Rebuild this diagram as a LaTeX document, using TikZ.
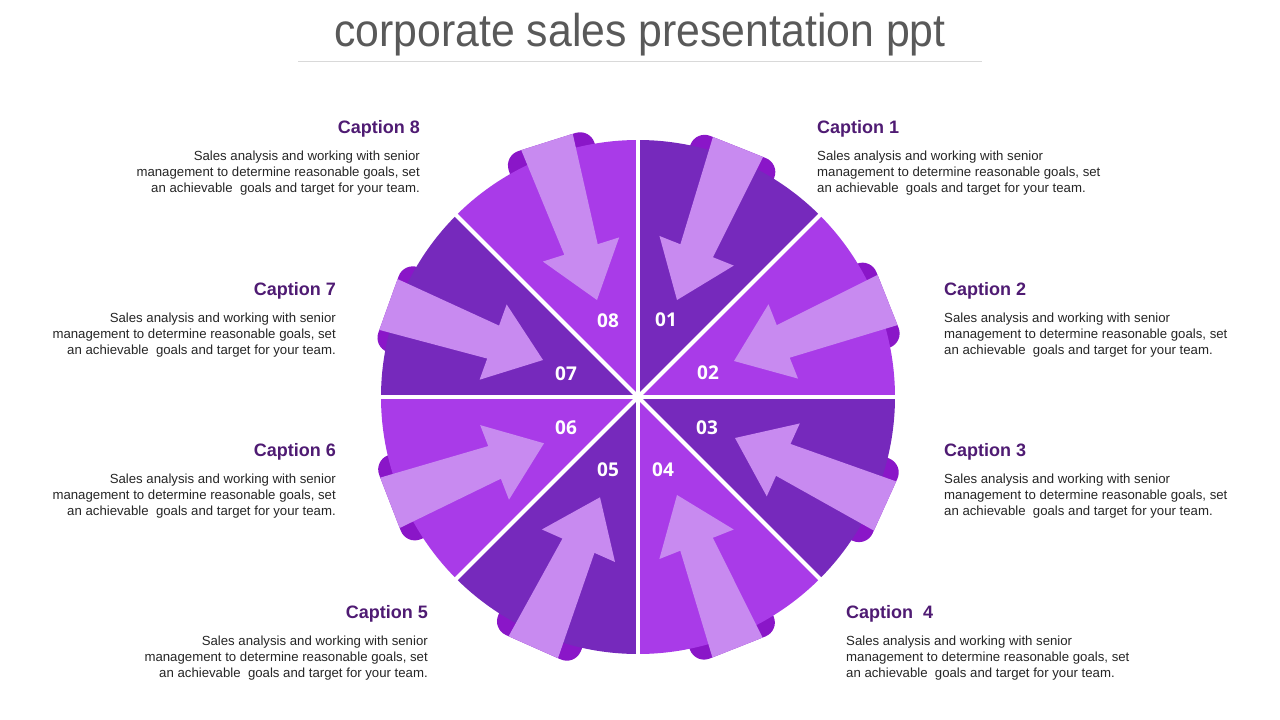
\documentclass[tikz,border=0pt]{standalone}
\usepackage{fontspec}
\setmainfont{Liberation Sans}
\newfontfamily\numfont{Open Sans}
\usetikzlibrary{calc}
\definecolor{darkc}{HTML}{7629BC}
\definecolor{brightc}{HTML}{A93BE8}
\definecolor{arrowc}{HTML}{C88AF0}
\definecolor{bumpc}{HTML}{8A16C8}
\definecolor{capc}{HTML}{4F1B73}
\definecolor{bodyc}{HTML}{262626}
\definecolor{titlec}{HTML}{595959}
\definecolor{rulec}{HTML}{D9D9D9}
\tikzset{
  numlabel/.style={text=white, font=\numfont\bfseries\fontsize{19}{22}\selectfont, inner sep=0pt},
  caphead/.style={text=capc, font=\bfseries\fontsize{18}{21}\selectfont, inner sep=0pt},
  captext/.style={text=bodyc, font=\fontsize{13.2}{16}\selectfont, inner sep=0pt},
  sepline/.style={white, line width=4pt}
}
\newcommand{\bodytext}{Sales analysis and working with senior\\ management to determine reasonable goals, set\\ an achievable\ \ goals and target for your team.}
\begin{document}
\begin{tikzpicture}[x=1pt,y=1pt]
\useasboundingbox (0,0) rectangle (1280,-720);
\fill[white] (0,0) rectangle (1280,-720);
% title
\node[text=titlec, font=\fontsize{46}{54}\selectfont, inner sep=0pt, xscale=0.93] (title) at (640,-35) {corporate sales presentation ppt};
\coordinate (r1) at (298,-61);
\coordinate (r2) at (982,-61);
\draw[rulec, line width=1pt] (r1) -- (r2);
% centre
\coordinate (c) at (638,-397);
% arrow tail / tip coordinates
\foreach \sx/\sy/\tx/\ty [count=\i] in {738/147/677/300, 887.5/300/734/361, 885/506/735/438, 737.5/647.5/677/495, 533.3/647.2/600/497.3, 390/502.8/544/443.3, 388.5/304.5/543/360, 547/142/597/300} {
  \coordinate (S\i) at (\sx,-\sy);
  \coordinate (T\i) at (\tx,-\ty);
}
% bumps behind
\foreach \i in {1,...,8} {
  \coordinate (B\i) at ($(S\i)!42pt!(T\i)$);
  \fill[bumpc, rounded corners=15pt] ($(S\i)!45pt!90:(T\i)$) -- ($(S\i)!45pt!-90:(T\i)$) -- ($(B\i)!45pt!-90:(T\i)$) -- ($(B\i)!45pt!90:(T\i)$) -- cycle;
}
% sectors
\foreach \a/\col in {90/darkc,45/brightc,0/darkc,-45/brightc,-90/darkc,-135/brightc,180/darkc,135/brightc}
  \fill[\col] (c) -- ++(\a:257pt) arc[start angle=\a, end angle=\a-45, radius=257pt] -- cycle;
% separators
\foreach \a in {0,45,...,315}
  \draw[sepline] (c) -- ++(\a:258pt);
% arrows
\foreach \i in {1,...,8} {
  \coordinate (H\i) at ($(T\i)!53pt!(S\i)$);
  \fill[arrowc] ($(S\i)!27pt!90:(T\i)$) -- ($(H\i)!17.5pt!90:(T\i)$) -- ($(H\i)!40pt!90:(T\i)$) -- (T\i) -- ($(H\i)!40pt!-90:(T\i)$) -- ($(H\i)!17.5pt!-90:(T\i)$) -- ($(S\i)!27pt!-90:(T\i)$) -- cycle;
}
% numbers
\node[numlabel] (n1) at (666,-320) {01};
\node[numlabel] (n2) at (708,-373) {02};
\node[numlabel] (n3) at (707,-428) {03};
\node[numlabel] (n4) at (663,-470) {04};
\node[numlabel] (n5) at (608,-470) {05};
\node[numlabel] (n6) at (566,-428) {06};
\node[numlabel] (n7) at (566,-374) {07};
\node[numlabel] (n8) at (608,-321) {08};
% captions right
\node[caphead, anchor=base west] (c1) at (817,-133.5) {Caption 1};
\node[captext, anchor=north west, align=left] (b1) at (817,-151) {\bodytext};
\node[caphead, anchor=base west] (c2) at (944,-295.5) {Caption 2};
\node[captext, anchor=north west, align=left] (b2) at (944,-313) {\bodytext};
\node[caphead, anchor=base west] (c3) at (944,-456.5) {Caption 3};
\node[captext, anchor=north west, align=left] (b3) at (944,-474) {\bodytext};
\node[caphead, anchor=base west] (c4) at (846,-618.5) {Caption\ \ 4};
\node[captext, anchor=north west, align=left] (b4) at (846,-636) {\bodytext};
% captions left
\node[caphead, anchor=base east] (c5) at (428,-618.5) {Caption 5};
\node[captext, anchor=north east, align=right] (b5) at (428,-636) {\bodytext};
\node[caphead, anchor=base east] (c6) at (336,-456.5) {Caption 6};
\node[captext, anchor=north east, align=right] (b6) at (336,-474) {\bodytext};
\node[caphead, anchor=base east] (c7) at (336,-295.5) {Caption 7};
\node[captext, anchor=north east, align=right] (b7) at (336,-313) {\bodytext};
\node[caphead, anchor=base east] (c8) at (420,-133.5) {Caption 8};
\node[captext, anchor=north east, align=right] (b8) at (420,-151) {\bodytext};
\end{tikzpicture}
\end{document}
